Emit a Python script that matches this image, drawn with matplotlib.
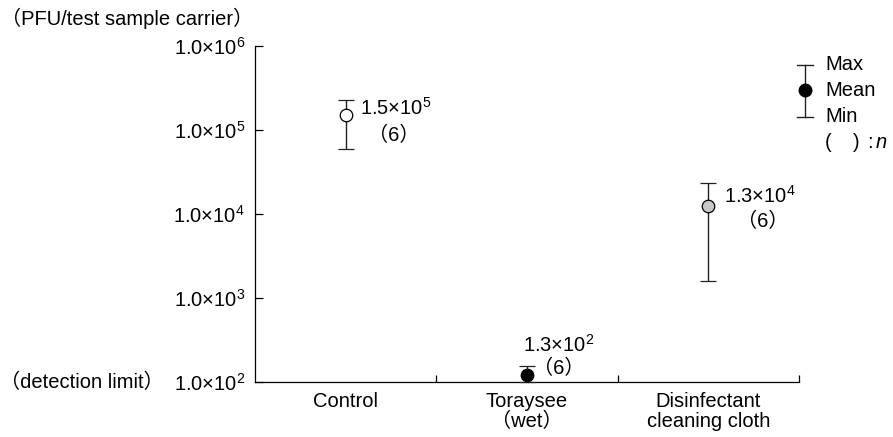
import matplotlib
matplotlib.use('Agg')
import matplotlib.pyplot as plt
import numpy as np

plt.rcParams['font.family'] = ['Liberation Sans', 'Noto Sans CJK JP', 'DejaVu Sans']
plt.rcParams['mathtext.fontset'] = 'custom'
plt.rcParams['mathtext.rm'] = 'Liberation Sans'
plt.rcParams['mathtext.it'] = 'Liberation Sans:italic'

# data
categories = ['Control', 'Toraysee\n\uff08wet\uff09', 'Disinfectant\ncleaning cloth']
means = [1.5e5, 1.2e2, 1.25e4]
maxs = [2.3e5, 1.55e2, 2.35e4]
mins = [5.9e4, 1.0e2, 1.6e3]
labels = ['1.5\u00d710$^{5}$', '1.3\u00d710$^{2}$', '1.3\u00d710$^{4}$']
n_labels = ['\uff086\uff09', '\uff086\uff09', '\uff086\uff09']
facecolors = ['white', 'black', '#c8c8c8']
yticks = [1e2, 1e3, 1e4, 1e5, 1e6]
ytick_labels = ['1.0\u00d710$^{%d}$' % i for i in range(2, 7)]

fig = plt.figure(figsize=(8.93, 4.37), dpi=100)
ax = fig.add_axes([255 / 893, 1 - 382 / 437, 544 / 893, 336 / 437])

fs = 14.5
x = np.arange(len(categories))
for i in range(len(categories)):
    ax.errorbar(x[i], means[i],
                yerr=[[means[i] - mins[i]], [maxs[i] - means[i]]],
                fmt='o', ms=9, mfc=facecolors[i], mec='black', mew=0.9,
                ecolor='#222222', elinewidth=1.0, capsize=6, capthick=1.0,
                clip_on=False, zorder=3)

# value annotations
lab_off = [(14, 7), (32, 30), (16, 10)]
n_off = [(48, -20), (32, 7), (54, -16)]
lab_ha = ['left', 'center', 'left']
for i in range(len(categories)):
    ax.annotate(labels[i], (x[i], means[i]), xytext=lab_off[i],
                textcoords='offset pixels', ha=lab_ha[i], va='center', fontsize=fs)
    ax.annotate(n_labels[i], (x[i], means[i]), xytext=n_off[i],
                textcoords='offset pixels', ha='center', va='center', fontsize=fs)

ax.set_yscale('log')
ax.set_ylim(1e2, 1e6)
ax.set_xlim(-0.5, 2.5)
ax.set_yticks(yticks)
ax.set_yticklabels(ytick_labels, fontsize=fs)
ax.yaxis.set_minor_locator(matplotlib.ticker.NullLocator())
ax.tick_params(axis='y', direction='in', length=6, width=0.9, pad=7)

ax.set_xticks(x)
ax.set_xticklabels(categories, fontsize=fs, linespacing=1.1)
ax.tick_params(axis='x', which='major', length=0, pad=7)
ax.set_xticks([0.5, 1.5, 2.5], minor=True)
ax.tick_params(axis='x', which='minor', direction='in', length=5, width=0.9)

for s in ['top', 'right']:
    ax.spines[s].set_visible(False)
for s in ['left', 'bottom']:
    ax.spines[s].set_linewidth(0.9)

fig.text(1 / 893, 1 - 18 / 437, '\uff08PFU/test sample carrier\uff09',
         fontsize=fs, ha='left', va='center')
fig.text(0 / 893, 1 - 382 / 437, '\uff08detection limit\uff09',
         fontsize=fs, ha='left', va='center')

# key
kx = 1.011
ky_mean, ky_max, ky_min = 0.869, 0.943, 0.789
ax.plot([kx, kx], [ky_min, ky_max], color='#222222', lw=1.0,
        transform=ax.transAxes, clip_on=False)
for yy in [ky_min, ky_max]:
    ax.plot([kx - 0.014, kx + 0.014], [yy, yy], color='#222222', lw=1.0,
            transform=ax.transAxes, clip_on=False)
ax.plot([kx], [ky_mean], 'o', ms=9, color='black', transform=ax.transAxes,
        clip_on=False)
tx = 825 / 893
fig.text(tx, 1 - 65 / 437, 'Max', fontsize=fs, va='center')
fig.text(tx, 1 - 91 / 437, 'Mean', fontsize=fs, va='center')
fig.text(tx, 1 - 117 / 437, 'Min', fontsize=fs, va='center')
fig.text(825 / 893, 1 - 142 / 437, '(', fontsize=fs, va='center')
fig.text(853 / 893, 1 - 142 / 437, ')', fontsize=fs, va='center')
fig.text(867 / 893, 1 - 142 / 437, ':', fontsize=fs, va='center')
fig.text(876 / 893, 1 - 142 / 437, 'n', fontsize=fs, va='center', style='italic')

fig.savefig('out.png', dpi=100)
